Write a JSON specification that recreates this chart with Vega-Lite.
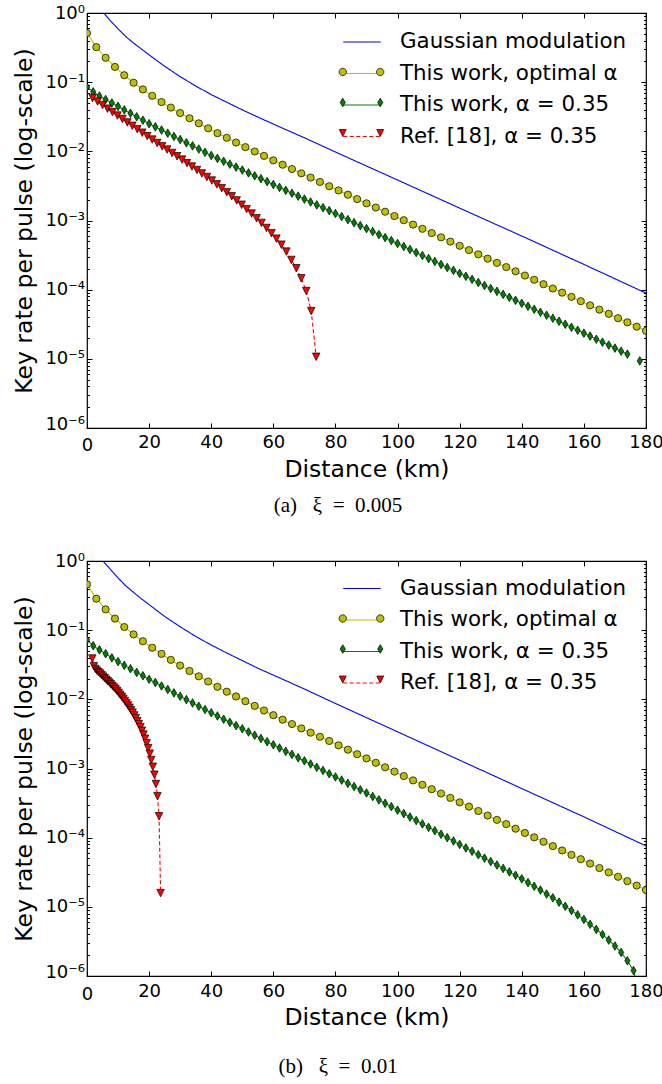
{
  "$schema": "https://vega.github.io/schema/vega-lite/v6.json",
  "background": "white",
  "padding": {"left": 12, "top": 3, "right": 2, "bottom": 2},
  "config": {
    "view": {"stroke": "black", "strokeWidth": 1.2},
    "axis": {"labelFont": "DejaVu Sans", "titleFont": "DejaVu Sans", "labelColor": "black", "titleColor": "black", "tickColor": "black", "titleFontWeight": "normal"},
    "legend": {"labelFont": "DejaVu Sans", "labelFontSize": 21.4, "labelColor": "black", "labelLimit": 400}
  },
  "datasets": {
    "a": [
      {"s":"gauss","km":5.4,"rate":1},{"s":"gauss","km":7.5,"rate":0.776},{"s":"gauss","km":10,"rate":0.589},{"s":"gauss","km":12.5,"rate":0.457},{"s":"gauss","km":15,"rate":0.367},{"s":"gauss","km":17.5,"rate":0.302},{"s":"gauss","km":20,"rate":0.248},{"s":"gauss","km":25,"rate":0.170},{"s":"gauss","km":30,"rate":0.120},{"s":"gauss","km":35,"rate":0.0881},{"s":"gauss","km":40,"rate":0.0661},{"s":"gauss","km":45,"rate":0.0513},{"s":"gauss","km":50,"rate":0.0398},{"s":"gauss","km":55,"rate":0.0313},{"s":"gauss","km":60,"rate":0.0248},{"s":"gauss","km":65,"rate":0.0197},{"s":"gauss","km":70,"rate":0.0157},{"s":"gauss","km":80,"rate":0.00977},{"s":"gauss","km":100,"rate":0.00385},{"s":"gauss","km":120,"rate":0.00151},{"s":"gauss","km":140,"rate":0.000596},{"s":"gauss","km":160,"rate":0.000232},{"s":"gauss","km":180,"rate":0.0000891},
      {"s":"opt","km":0,"rate":0.513},{"s":"opt","km":3,"rate":0.321},{"s":"opt","km":6,"rate":0.225},{"s":"opt","km":9,"rate":0.166},{"s":"opt","km":12,"rate":0.126},{"s":"opt","km":15,"rate":0.0982},{"s":"opt","km":18,"rate":0.0785},{"s":"opt","km":21,"rate":0.0635},{"s":"opt","km":24,"rate":0.0516},{"s":"opt","km":27,"rate":0.0429},{"s":"opt","km":30,"rate":0.0358},{"s":"opt","km":33,"rate":0.0301},{"s":"opt","km":36,"rate":0.0254},{"s":"opt","km":39,"rate":0.0215},{"s":"opt","km":42,"rate":0.0183},{"s":"opt","km":45,"rate":0.0157},{"s":"opt","km":48,"rate":0.0134},{"s":"opt","km":51,"rate":0.0115},{"s":"opt","km":54,"rate":0.00995},{"s":"opt","km":57,"rate":0.00859},{"s":"opt","km":60,"rate":0.00741},{"s":"opt","km":63,"rate":0.00641},{"s":"opt","km":66,"rate":0.00555},{"s":"opt","km":69,"rate":0.00481},{"s":"opt","km":72,"rate":0.00417},{"s":"opt","km":75,"rate":0.00361},{"s":"opt","km":78,"rate":0.00313},{"s":"opt","km":81,"rate":0.00272},{"s":"opt","km":84,"rate":0.00236},{"s":"opt","km":87,"rate":0.00204},{"s":"opt","km":90,"rate":0.00177},{"s":"opt","km":93,"rate":0.00154},{"s":"opt","km":96,"rate":0.00134},{"s":"opt","km":99,"rate":0.00116},{"s":"opt","km":102,"rate":0.00101},{"s":"opt","km":105,"rate":0.000873},{"s":"opt","km":108,"rate":0.000759},{"s":"opt","km":111,"rate":0.000658},{"s":"opt","km":114,"rate":0.000571},{"s":"opt","km":117,"rate":0.000495},{"s":"opt","km":120,"rate":0.000431},{"s":"opt","km":123,"rate":0.000373},{"s":"opt","km":126,"rate":0.000324},{"s":"opt","km":129,"rate":0.000281},{"s":"opt","km":132,"rate":0.000244},{"s":"opt","km":135,"rate":0.000212},{"s":"opt","km":138,"rate":0.000184},{"s":"opt","km":141,"rate":0.000160},{"s":"opt","km":144,"rate":0.000139},{"s":"opt","km":147,"rate":0.000120},{"s":"opt","km":150,"rate":0.000104},{"s":"opt","km":153,"rate":0.0000906},{"s":"opt","km":156,"rate":0.0000787},{"s":"opt","km":159,"rate":0.0000682},{"s":"opt","km":162,"rate":0.0000593},{"s":"opt","km":165,"rate":0.0000514},{"s":"opt","km":168,"rate":0.0000447},{"s":"opt","km":171,"rate":0.0000387},{"s":"opt","km":174,"rate":0.0000337},{"s":"opt","km":177,"rate":0.0000292},{"s":"opt","km":180,"rate":0.0000254},
      {"s":"a035","km":0,"rate":0.0851},{"s":"a035","km":2,"rate":0.0724},{"s":"a035","km":4,"rate":0.0631},{"s":"a035","km":6,"rate":0.0562},{"s":"a035","km":8,"rate":0.0501},{"s":"a035","km":10,"rate":0.0447},{"s":"a035","km":12,"rate":0.0398},{"s":"a035","km":14,"rate":0.0355},{"s":"a035","km":16,"rate":0.0316},{"s":"a035","km":18,"rate":0.0282},{"s":"a035","km":20,"rate":0.0251},{"s":"a035","km":22,"rate":0.0226},{"s":"a035","km":24,"rate":0.0203},{"s":"a035","km":26,"rate":0.0183},{"s":"a035","km":28,"rate":0.0164},{"s":"a035","km":30,"rate":0.0148},{"s":"a035","km":32,"rate":0.0133},{"s":"a035","km":34,"rate":0.0120},{"s":"a035","km":36,"rate":0.0108},{"s":"a035","km":38,"rate":0.00968},{"s":"a035","km":40,"rate":0.00871},{"s":"a035","km":42,"rate":0.00791},{"s":"a035","km":44,"rate":0.00718},{"s":"a035","km":46,"rate":0.00652},{"s":"a035","km":48,"rate":0.00592},{"s":"a035","km":50,"rate":0.00537},{"s":"a035","km":52,"rate":0.00488},{"s":"a035","km":54,"rate":0.00443},{"s":"a035","km":56,"rate":0.00402},{"s":"a035","km":58,"rate":0.00365},{"s":"a035","km":60,"rate":0.00331},{"s":"a035","km":62,"rate":0.00301},{"s":"a035","km":64,"rate":0.00273},{"s":"a035","km":66,"rate":0.00248},{"s":"a035","km":68,"rate":0.00225},{"s":"a035","km":70,"rate":0.00204},{"s":"a035","km":72,"rate":0.00185},{"s":"a035","km":74,"rate":0.00168},{"s":"a035","km":76,"rate":0.00153},{"s":"a035","km":78,"rate":0.00139},{"s":"a035","km":80,"rate":0.00126},{"s":"a035","km":82,"rate":0.00114},{"s":"a035","km":84,"rate":0.00103},{"s":"a035","km":86,"rate":0.000931},{"s":"a035","km":88,"rate":0.000843},{"s":"a035","km":90,"rate":0.000764},{"s":"a035","km":92,"rate":0.000692},{"s":"a035","km":94,"rate":0.000625},{"s":"a035","km":96,"rate":0.000566},{"s":"a035","km":98,"rate":0.000513},{"s":"a035","km":100,"rate":0.000465},{"s":"a035","km":102,"rate":0.000421},{"s":"a035","km":104,"rate":0.000380},{"s":"a035","km":106,"rate":0.000344},{"s":"a035","km":108,"rate":0.000312},{"s":"a035","km":110,"rate":0.000282},{"s":"a035","km":112,"rate":0.000256},{"s":"a035","km":114,"rate":0.000231},{"s":"a035","km":116,"rate":0.000209},{"s":"a035","km":118,"rate":0.000190},{"s":"a035","km":120,"rate":0.000172},{"s":"a035","km":122,"rate":0.000156},{"s":"a035","km":124,"rate":0.000141},{"s":"a035","km":126,"rate":0.000127},{"s":"a035","km":128,"rate":0.000115},{"s":"a035","km":130,"rate":0.000104},{"s":"a035","km":132,"rate":0.0000946},{"s":"a035","km":134,"rate":0.0000855},{"s":"a035","km":136,"rate":0.0000774},{"s":"a035","km":138,"rate":0.0000701},{"s":"a035","km":140,"rate":0.0000635},{"s":"a035","km":142,"rate":0.0000575},{"s":"a035","km":144,"rate":0.0000520},{"s":"a035","km":146,"rate":0.0000471},{"s":"a035","km":148,"rate":0.0000427},{"s":"a035","km":150,"rate":0.0000386},{"s":"a035","km":152,"rate":0.0000350},{"s":"a035","km":154,"rate":0.0000316},{"s":"a035","km":156,"rate":0.0000286},{"s":"a035","km":158,"rate":0.0000259},{"s":"a035","km":160,"rate":0.0000235},{"s":"a035","km":162,"rate":0.0000213},{"s":"a035","km":164,"rate":0.0000192},{"s":"a035","km":166,"rate":0.0000174},{"s":"a035","km":168,"rate":0.0000158},{"s":"a035","km":170,"rate":0.0000143},{"s":"a035","km":172,"rate":0.0000129},{"s":"a035","km":174,"rate":0.0000117},{"s":"a035","km":176,"rate":null},{"s":"a035","km":178,"rate":0.00000933},
      {"s":"ref18","km":1.8,"rate":0.0589},{"s":"ref18","km":3.4,"rate":0.0524},{"s":"ref18","km":5.0,"rate":0.0466},{"s":"ref18","km":6.6,"rate":0.0414},{"s":"ref18","km":8.2,"rate":0.0369},{"s":"ref18","km":9.8,"rate":0.0329},{"s":"ref18","km":11.4,"rate":0.0294},{"s":"ref18","km":13.0,"rate":0.0262},{"s":"ref18","km":14.6,"rate":0.0234},{"s":"ref18","km":16.2,"rate":0.0209},{"s":"ref18","km":17.8,"rate":0.0186},{"s":"ref18","km":19.4,"rate":0.0166},{"s":"ref18","km":21.0,"rate":0.0148},{"s":"ref18","km":22.6,"rate":0.0132},{"s":"ref18","km":24.2,"rate":0.0118},{"s":"ref18","km":25.8,"rate":0.0106},{"s":"ref18","km":27.4,"rate":0.00948},{"s":"ref18","km":29.0,"rate":0.00849},{"s":"ref18","km":30.6,"rate":0.00759},{"s":"ref18","km":32.2,"rate":0.00676},{"s":"ref18","km":33.8,"rate":0.00603},{"s":"ref18","km":35.4,"rate":0.00537},{"s":"ref18","km":37.0,"rate":0.00479},{"s":"ref18","km":38.6,"rate":0.00425},{"s":"ref18","km":40.2,"rate":0.00378},{"s":"ref18","km":41.8,"rate":0.00333},{"s":"ref18","km":43.4,"rate":0.00293},{"s":"ref18","km":45.0,"rate":0.00257},{"s":"ref18","km":46.6,"rate":0.00224},{"s":"ref18","km":48.2,"rate":0.00195},{"s":"ref18","km":49.8,"rate":0.00169},{"s":"ref18","km":51.4,"rate":0.00146},{"s":"ref18","km":53.0,"rate":0.00126},{"s":"ref18","km":54.6,"rate":0.00108},{"s":"ref18","km":56.2,"rate":0.000923},{"s":"ref18","km":57.8,"rate":0.000780},{"s":"ref18","km":59.4,"rate":0.000656},{"s":"ref18","km":61.0,"rate":0.000547},{"s":"ref18","km":62.6,"rate":0.000447},{"s":"ref18","km":64.2,"rate":0.000355},{"s":"ref18","km":65.8,"rate":0.000269},{"s":"ref18","km":67.4,"rate":0.000204},{"s":"ref18","km":69.0,"rate":0.000146},{"s":"ref18","km":70.6,"rate":0.0000955},{"s":"ref18","km":72.2,"rate":0.0000490},{"s":"ref18","km":73.8,"rate":0.0000107}
    ],
    "b": [
      {"s":"gauss","km":5.1,"rate":1},{"s":"gauss","km":7.5,"rate":0.759},{"s":"gauss","km":10,"rate":0.569},{"s":"gauss","km":12.5,"rate":0.437},{"s":"gauss","km":15,"rate":0.351},{"s":"gauss","km":17.5,"rate":0.285},{"s":"gauss","km":20,"rate":0.234},{"s":"gauss","km":25,"rate":0.158},{"s":"gauss","km":30,"rate":0.112},{"s":"gauss","km":35,"rate":0.0813},{"s":"gauss","km":40,"rate":0.0610},{"s":"gauss","km":45,"rate":0.0468},{"s":"gauss","km":50,"rate":0.0363},{"s":"gauss","km":55,"rate":0.0282},{"s":"gauss","km":60,"rate":0.0224},{"s":"gauss","km":65,"rate":0.0178},{"s":"gauss","km":70,"rate":0.0141},{"s":"gauss","km":80,"rate":0.00871},{"s":"gauss","km":100,"rate":0.00339},{"s":"gauss","km":120,"rate":0.00132},{"s":"gauss","km":140,"rate":0.000513},{"s":"gauss","km":160,"rate":0.000200},{"s":"gauss","km":180,"rate":0.0000759},
      {"s":"opt","km":0,"rate":0.459},{"s":"opt","km":3,"rate":0.285},{"s":"opt","km":6,"rate":0.200},{"s":"opt","km":9,"rate":0.147},{"s":"opt","km":12,"rate":0.111},{"s":"opt","km":15,"rate":0.0869},{"s":"opt","km":18,"rate":0.0692},{"s":"opt","km":21,"rate":0.0558},{"s":"opt","km":24,"rate":0.0454},{"s":"opt","km":27,"rate":0.0372},{"s":"opt","km":30,"rate":0.0308},{"s":"opt","km":33,"rate":0.0257},{"s":"opt","km":36,"rate":0.0215},{"s":"opt","km":39,"rate":0.0181},{"s":"opt","km":42,"rate":0.0152},{"s":"opt","km":45,"rate":0.0129},{"s":"opt","km":48,"rate":0.0110},{"s":"opt","km":51,"rate":0.00940},{"s":"opt","km":54,"rate":0.00804},{"s":"opt","km":57,"rate":0.00689},{"s":"opt","km":60,"rate":0.00590},{"s":"opt","km":63,"rate":0.00508},{"s":"opt","km":66,"rate":0.00439},{"s":"opt","km":69,"rate":0.00380},{"s":"opt","km":72,"rate":0.00330},{"s":"opt","km":75,"rate":0.00287},{"s":"opt","km":78,"rate":0.00250},{"s":"opt","km":81,"rate":0.00216},{"s":"opt","km":84,"rate":0.00187},{"s":"opt","km":87,"rate":0.00161},{"s":"opt","km":90,"rate":0.00140},{"s":"opt","km":93,"rate":0.00121},{"s":"opt","km":96,"rate":0.00104},{"s":"opt","km":99,"rate":0.000902},{"s":"opt","km":102,"rate":0.000778},{"s":"opt","km":105,"rate":0.000673},{"s":"opt","km":108,"rate":0.000582},{"s":"opt","km":111,"rate":0.000502},{"s":"opt","km":114,"rate":0.000435},{"s":"opt","km":117,"rate":0.000376},{"s":"opt","km":120,"rate":0.000324},{"s":"opt","km":123,"rate":0.000281},{"s":"opt","km":126,"rate":0.000243},{"s":"opt","km":129,"rate":0.000209},{"s":"opt","km":132,"rate":0.000181},{"s":"opt","km":135,"rate":0.000157},{"s":"opt","km":138,"rate":0.000135},{"s":"opt","km":141,"rate":0.000117},{"s":"opt","km":144,"rate":0.000101},{"s":"opt","km":147,"rate":0.0000873},{"s":"opt","km":150,"rate":0.0000755},{"s":"opt","km":153,"rate":0.0000653},{"s":"opt","km":156,"rate":0.0000564},{"s":"opt","km":159,"rate":0.0000488},{"s":"opt","km":162,"rate":0.0000422},{"s":"opt","km":165,"rate":0.0000364},{"s":"opt","km":168,"rate":0.0000315},{"s":"opt","km":171,"rate":0.0000272},{"s":"opt","km":174,"rate":0.0000235},{"s":"opt","km":177,"rate":0.0000203},{"s":"opt","km":180,"rate":0.0000175},
      {"s":"a035","km":0,"rate":0.0724},{"s":"a035","km":2,"rate":0.0596},{"s":"a035","km":4,"rate":0.0519},{"s":"a035","km":6,"rate":0.0457},{"s":"a035","km":8,"rate":0.0398},{"s":"a035","km":10,"rate":0.0351},{"s":"a035","km":12,"rate":0.0310},{"s":"a035","km":14,"rate":0.0277},{"s":"a035","km":16,"rate":0.0245},{"s":"a035","km":18,"rate":0.0219},{"s":"a035","km":20,"rate":0.0195},{"s":"a035","km":22,"rate":0.0175},{"s":"a035","km":24,"rate":0.0156},{"s":"a035","km":26,"rate":0.0139},{"s":"a035","km":28,"rate":0.0124},{"s":"a035","km":30,"rate":0.0111},{"s":"a035","km":32,"rate":0.00991},{"s":"a035","km":34,"rate":0.00885},{"s":"a035","km":36,"rate":0.00794},{"s":"a035","km":38,"rate":0.00713},{"s":"a035","km":40,"rate":0.00640},{"s":"a035","km":42,"rate":0.00575},{"s":"a035","km":44,"rate":0.00516},{"s":"a035","km":46,"rate":0.00465},{"s":"a035","km":48,"rate":0.00417},{"s":"a035","km":50,"rate":0.00375},{"s":"a035","km":52,"rate":0.00337},{"s":"a035","km":54,"rate":0.00303},{"s":"a035","km":56,"rate":0.00272},{"s":"a035","km":58,"rate":0.00244},{"s":"a035","km":60,"rate":0.00220},{"s":"a035","km":62,"rate":0.00198},{"s":"a035","km":64,"rate":0.00177},{"s":"a035","km":66,"rate":0.00160},{"s":"a035","km":68,"rate":0.00143},{"s":"a035","km":70,"rate":0.00129},{"s":"a035","km":72,"rate":0.00116},{"s":"a035","km":74,"rate":0.00104},{"s":"a035","km":76,"rate":0.000935},{"s":"a035","km":78,"rate":0.000839},{"s":"a035","km":80,"rate":0.000755},{"s":"a035","km":82,"rate":0.000679},{"s":"a035","km":84,"rate":0.000610},{"s":"a035","km":86,"rate":0.000548},{"s":"a035","km":88,"rate":0.000492},{"s":"a035","km":90,"rate":0.000443},{"s":"a035","km":92,"rate":0.000394},{"s":"a035","km":94,"rate":0.000352},{"s":"a035","km":96,"rate":0.000314},{"s":"a035","km":98,"rate":0.000281},{"s":"a035","km":100,"rate":0.000250},{"s":"a035","km":102,"rate":0.000223},{"s":"a035","km":104,"rate":0.000199},{"s":"a035","km":106,"rate":0.000177},{"s":"a035","km":108,"rate":0.000158},{"s":"a035","km":110,"rate":0.000141},{"s":"a035","km":112,"rate":0.000126},{"s":"a035","km":114,"rate":0.000112},{"s":"a035","km":116,"rate":0.000100},{"s":"a035","km":118,"rate":0.0000895},{"s":"a035","km":120,"rate":0.0000798},{"s":"a035","km":122,"rate":0.0000711},{"s":"a035","km":124,"rate":0.0000635},{"s":"a035","km":126,"rate":0.0000566},{"s":"a035","km":128,"rate":0.0000506},{"s":"a035","km":130,"rate":0.0000451},{"s":"a035","km":132,"rate":0.0000402},{"s":"a035","km":134,"rate":0.0000359},{"s":"a035","km":136,"rate":0.0000320},{"s":"a035","km":138,"rate":0.0000286},{"s":"a035","km":140,"rate":0.0000254},{"s":"a035","km":142,"rate":0.0000224},{"s":"a035","km":144,"rate":0.0000198},{"s":"a035","km":146,"rate":0.0000175},{"s":"a035","km":148,"rate":0.0000153},{"s":"a035","km":150,"rate":0.0000135},{"s":"a035","km":152,"rate":0.0000117},{"s":"a035","km":154,"rate":0.0000102},{"s":"a035","km":156,"rate":0.00000887},{"s":"a035","km":158,"rate":0.00000766},{"s":"a035","km":160,"rate":0.00000656},{"s":"a035","km":162,"rate":0.00000558},{"s":"a035","km":164,"rate":0.00000472},{"s":"a035","km":166,"rate":0.00000398},{"s":"a035","km":168,"rate":0.00000331},{"s":"a035","km":170,"rate":0.00000272},{"s":"a035","km":172,"rate":0.00000219},{"s":"a035","km":174,"rate":0.00000166},{"s":"a035","km":176,"rate":0.00000120},{"s":"a035","km":178,"rate":0.000000398},
      {"s":"ref18","km":1.7,"rate":0.0389},{"s":"ref18","km":2.2,"rate":0.0302},{"s":"ref18","km":2.7,"rate":0.0275},{"s":"ref18","km":3.2,"rate":0.0260},{"s":"ref18","km":3.7,"rate":0.0247},{"s":"ref18","km":4.2,"rate":0.0236},{"s":"ref18","km":4.7,"rate":0.0224},{"s":"ref18","km":5.2,"rate":0.0213},{"s":"ref18","km":5.7,"rate":0.0202},{"s":"ref18","km":6.2,"rate":0.0192},{"s":"ref18","km":6.7,"rate":0.0183},{"s":"ref18","km":7.2,"rate":0.0174},{"s":"ref18","km":7.7,"rate":0.0165},{"s":"ref18","km":8.2,"rate":0.0156},{"s":"ref18","km":8.7,"rate":0.0148},{"s":"ref18","km":9.2,"rate":0.0140},{"s":"ref18","km":9.7,"rate":0.0132},{"s":"ref18","km":10.2,"rate":0.0124},{"s":"ref18","km":10.7,"rate":0.0116},{"s":"ref18","km":11.2,"rate":0.0109},{"s":"ref18","km":11.7,"rate":0.0102},{"s":"ref18","km":12.2,"rate":0.00948},{"s":"ref18","km":12.7,"rate":0.00881},{"s":"ref18","km":13.2,"rate":0.00817},{"s":"ref18","km":13.7,"rate":0.00755},{"s":"ref18","km":14.2,"rate":0.00697},{"s":"ref18","km":14.7,"rate":0.00641},{"s":"ref18","km":15.2,"rate":0.00586},{"s":"ref18","km":15.7,"rate":0.00535},{"s":"ref18","km":16.2,"rate":0.00484},{"s":"ref18","km":16.7,"rate":0.00437},{"s":"ref18","km":17.2,"rate":0.00394},{"s":"ref18","km":17.7,"rate":0.00351},{"s":"ref18","km":18.2,"rate":0.00309},{"s":"ref18","km":18.7,"rate":0.00269},{"s":"ref18","km":19.2,"rate":0.00232},{"s":"ref18","km":19.7,"rate":0.00197},{"s":"ref18","km":20.2,"rate":0.00164},{"s":"ref18","km":20.7,"rate":0.00133},{"s":"ref18","km":21.2,"rate":0.00106},{"s":"ref18","km":21.7,"rate":0.000813},{"s":"ref18","km":22.2,"rate":0.000596},{"s":"ref18","km":22.7,"rate":0.000398},{"s":"ref18","km":23.2,"rate":0.000204},{"s":"ref18","km":23.7,"rate":0.0000158}
    ]
  },
  "spacing": 34,
  "resolve": {"scale": {"stroke": "independent", "strokeDash": "independent", "fill": "independent", "shape": "independent"}},
  "vconcat": [
    {
      "width": 559, "height": 415,
      "title": {"text": "(a)\u00a0\u00a0\u00a0ξ\u00a0\u00a0=\u00a0\u00a00.005", "orient": "bottom", "anchor": "middle", "frame": "bounds", "font": "Liberation Serif", "fontSize": 21, "fontWeight": "normal", "color": "black", "offset": 14},
      "data": {"name": "a"},
      "layer": [
        {
          "mark": {"type": "line", "clip": true, "strokeWidth": 1.1},
          "encoding": {
            "x": {"field": "km", "type": "quantitative", "scale": {"domain": [0, 180], "nice": false, "zero": false},
              "axis": {"orient": "bottom", "values": [0,20,40,60,80,100,120,140,160,180], "tickSize": -5, "labelPadding": {"condition": {"test": "datum.value < 1", "value": 13.5}, "value": 10}, "labelFontSize": 18, "labelFlush": false, "labelOverlap": false, "domain": false, "grid": false, "title": "Distance (km)", "titleFontSize": 23.5, "titlePadding": 2.5}},
            "y": {"field": "rate", "type": "quantitative", "scale": {"type": "log", "domain": [0.000001, 1], "nice": false},
              "axis": {"orient": "left", "values": [0.000001,0.00001,0.0001,0.001,0.01,0.1,1], "tickSize": -5, "labelPadding": 7.5, "labelOffset": {"condition": {"test": "datum.value < 0.0000015", "value": -3.5}, "value": 0}, "labelFontSize": 18, "labelFlush": false, "labelOverlap": false, "labelExpr": "datum.value >= 0.5 ? '10⁰' : datum.value >= 0.05 ? '10⁻¹' : datum.value >= 0.005 ? '10⁻²' : datum.value >= 0.0005 ? '10⁻³' : datum.value >= 0.00005 ? '10⁻⁴' : datum.value >= 0.000005 ? '10⁻⁵' : '10⁻⁶'", "domain": false, "grid": false, "title": "Key rate per pulse (log-scale)", "titleFontSize": 23.5, "titlePadding": 8}},
            "stroke": {"field": "s", "type": "nominal", "scale": {"domain": ["gauss","opt","a035","ref18"], "range": ["#0000ff","#bfbf00","#008000","#ff0000"]},
              "legend": {"orient": "none", "legendX": 259, "legendY": 13, "title": null, "padding": 0, "symbolType": "M-1.25,0H1.25", "symbolSize": 900, "symbolStrokeWidth": 1.2, "labelOffset": 22, "rowPadding": 4.5, "labelExpr": "datum.label === 'gauss' ? 'Gaussian modulation' : datum.label === 'opt' ? 'This work, optimal α' : datum.label === 'a035' ? 'This work, α = 0.35' : 'Ref. [18], α = 0.35'"}},
            "strokeDash": {"field": "s", "type": "nominal", "scale": {"domain": ["gauss","opt","a035","ref18"], "range": [[1,0],[1,0],[1,0],[4,2.5]]},
              "legend": {"orient": "none", "legendX": 259, "legendY": 13, "title": null, "padding": 0, "symbolType": "M-1.25,0H1.25", "symbolSize": 900, "symbolStrokeWidth": 1.2, "labelOffset": 22, "rowPadding": 4.5, "labelExpr": "datum.label === 'gauss' ? 'Gaussian modulation' : datum.label === 'opt' ? 'This work, optimal α' : datum.label === 'a035' ? 'This work, α = 0.35' : 'Ref. [18], α = 0.35'"}}
          }
        },
        {
          "transform": [{"filter": "datum.s === 'opt'"}],
          "mark": {"type": "point", "shape": "circle", "filled": true, "fill": "#bfbf00", "stroke": "black", "strokeWidth": 0.7, "size": 52, "opacity": 1, "clip": true},
          "encoding": {
            "x": {"field": "km", "type": "quantitative", "axis": {"orient": "top", "values": [0,20,40,60,80,100,120,140,160,180], "tickSize": -5, "labels": false, "domain": false, "grid": false, "title": null}},
            "y": {"field": "rate", "type": "quantitative", "axis": {"orient": "right", "values": [0.000001,0.00001,0.0001,0.001,0.01,0.1,1], "tickSize": -5, "labels": false, "domain": false, "grid": false, "title": null}}
          }
        },
        {
          "transform": [{"filter": "datum.s === 'a035'"}],
          "mark": {"type": "point", "shape": "M0,-1L0.6,0L0,1L-0.6,0Z", "filled": true, "fill": "#008000", "stroke": "black", "strokeWidth": 0.7, "size": 74, "opacity": 1, "clip": true},
          "encoding": {
            "x": {"field": "km", "type": "quantitative", "axis": null},
            "y": {"field": "rate", "type": "quantitative", "axis": {"orient": "left", "values": [0.000002,0.000003,0.000004,0.000005,0.000006,0.000007,0.000008,0.000009,0.00002,0.00003,0.00004,0.00005,0.00006,0.00007,0.00008,0.00009,0.0002,0.0003,0.0004,0.0005,0.0006,0.0007,0.0008,0.0009,0.002,0.003,0.004,0.005,0.006,0.007,0.008,0.009,0.02,0.03,0.04,0.05,0.06,0.07,0.08,0.09,0.2,0.3,0.4,0.5,0.6,0.7,0.8,0.9], "tickSize": -2.5, "labels": false, "domain": false, "grid": false, "title": null}}
          }
        },
        {
          "transform": [{"filter": "datum.s === 'ref18'"}],
          "mark": {"type": "point", "shape": "M-1,-1L1,-1L0,1Z", "filled": true, "fill": "#ff0000", "stroke": "black", "strokeWidth": 0.7, "size": 56, "opacity": 1, "clip": true},
          "encoding": {
            "x": {"field": "km", "type": "quantitative", "axis": null},
            "y": {"field": "rate", "type": "quantitative", "axis": {"orient": "right", "values": [0.000002,0.000003,0.000004,0.000005,0.000006,0.000007,0.000008,0.000009,0.00002,0.00003,0.00004,0.00005,0.00006,0.00007,0.00008,0.00009,0.0002,0.0003,0.0004,0.0005,0.0006,0.0007,0.0008,0.0009,0.002,0.003,0.004,0.005,0.006,0.007,0.008,0.009,0.02,0.03,0.04,0.05,0.06,0.07,0.08,0.09,0.2,0.3,0.4,0.5,0.6,0.7,0.8,0.9], "tickSize": -2.5, "labels": false, "domain": false, "grid": false, "title": null}}
          }
        },
        {
          "mark": {"type": "point", "filled": true, "stroke": "black", "strokeWidth": 0.7, "opacity": 0, "clip": true},
          "encoding": {
            "x": {"field": "km", "type": "quantitative", "axis": null},
            "y": {"field": "rate", "type": "quantitative", "axis": null},
            "fill": {"field": "s", "type": "nominal", "sort": null, "scale": {"range": ["#0000ff","#bfbf00","#008000","#ff0000"]},
              "legend": {"orient": "none", "legendX": 259, "legendY": 13, "title": null, "padding": 0, "symbolSize": 900, "symbolStrokeWidth": 0.7, "symbolOpacity": 1, "labelOpacity": 0, "labelOffset": 22, "rowPadding": 4.5, "labelExpr": "'\u00a0'"}},
            "shape": {"field": "s", "type": "nominal", "sort": null, "scale": {"range": ["M0,0", "M-1.003,0A0.247,0.247 0 1,1 -1.497,0A0.247,0.247 0 1,1 -1.003,0Z M1.497,0A0.247,0.247 0 1,1 1.003,0A0.247,0.247 0 1,1 1.497,0Z", "M-1.25,-0.287L-1.077,0L-1.25,0.287L-1.423,0Z M1.25,-0.287L1.423,0L1.25,0.287L1.077,0Z", "M-1.483,-0.233L-1.017,-0.233L-1.25,0.233Z M1.017,-0.233L1.483,-0.233L1.25,0.233Z"]},
              "legend": {"orient": "none", "legendX": 259, "legendY": 13, "title": null, "padding": 0, "symbolSize": 900, "symbolStrokeWidth": 0.7, "symbolOpacity": 1, "labelOpacity": 0, "labelOffset": 22, "rowPadding": 4.5, "labelExpr": "'\u00a0'"}}
          }
        }
      ]
    },
    {
      "width": 559, "height": 415,
      "title": {"text": "(b)\u00a0\u00a0\u00a0ξ\u00a0\u00a0=\u00a0\u00a00.01", "orient": "bottom", "anchor": "middle", "frame": "bounds", "font": "Liberation Serif", "fontSize": 21, "fontWeight": "normal", "color": "black", "offset": 27},
      "data": {"name": "b"},
      "layer": [
        {
          "mark": {"type": "line", "clip": true, "strokeWidth": 1.1},
          "encoding": {
            "x": {"field": "km", "type": "quantitative", "scale": {"domain": [0, 180], "nice": false, "zero": false},
              "axis": {"orient": "bottom", "values": [0,20,40,60,80,100,120,140,160,180], "tickSize": -5, "labelPadding": {"condition": {"test": "datum.value < 1", "value": 14.5}, "value": 11}, "labelFontSize": 18, "labelFlush": false, "labelOverlap": false, "domain": false, "grid": false, "title": "Distance (km)", "titleFontSize": 23.5, "titlePadding": 1.5}},
            "y": {"field": "rate", "type": "quantitative", "scale": {"type": "log", "domain": [0.000001, 1], "nice": false},
              "axis": {"orient": "left", "values": [0.000001,0.00001,0.0001,0.001,0.01,0.1,1], "tickSize": -5, "labelPadding": 7.5, "labelOffset": {"condition": {"test": "datum.value < 0.0000015", "value": -3.5}, "value": 0}, "labelFontSize": 18, "labelFlush": false, "labelOverlap": false, "labelExpr": "datum.value >= 0.5 ? '10⁰' : datum.value >= 0.05 ? '10⁻¹' : datum.value >= 0.005 ? '10⁻²' : datum.value >= 0.0005 ? '10⁻³' : datum.value >= 0.00005 ? '10⁻⁴' : datum.value >= 0.000005 ? '10⁻⁵' : '10⁻⁶'", "domain": false, "grid": false, "title": "Key rate per pulse (log-scale)", "titleFontSize": 23.5, "titlePadding": 8}},
            "stroke": {"field": "s", "type": "nominal", "scale": {"domain": ["gauss","opt","a035","ref18"], "range": ["#0000ff","#bfbf00","#008000","#ff0000"]},
              "legend": {"orient": "none", "legendX": 259, "legendY": 11.5, "title": null, "padding": 0, "symbolType": "M-1.25,0H1.25", "symbolSize": 900, "symbolStrokeWidth": 1.2, "labelOffset": 22, "rowPadding": 4.5, "labelExpr": "datum.label === 'gauss' ? 'Gaussian modulation' : datum.label === 'opt' ? 'This work, optimal α' : datum.label === 'a035' ? 'This work, α = 0.35' : 'Ref. [18], α = 0.35'"}},
            "strokeDash": {"field": "s", "type": "nominal", "scale": {"domain": ["gauss","opt","a035","ref18"], "range": [[1,0],[1,0],[1,0],[4,2.5]]},
              "legend": {"orient": "none", "legendX": 259, "legendY": 11.5, "title": null, "padding": 0, "symbolType": "M-1.25,0H1.25", "symbolSize": 900, "symbolStrokeWidth": 1.2, "labelOffset": 22, "rowPadding": 4.5, "labelExpr": "datum.label === 'gauss' ? 'Gaussian modulation' : datum.label === 'opt' ? 'This work, optimal α' : datum.label === 'a035' ? 'This work, α = 0.35' : 'Ref. [18], α = 0.35'"}}
          }
        },
        {
          "transform": [{"filter": "datum.s === 'opt'"}],
          "mark": {"type": "point", "shape": "circle", "filled": true, "fill": "#bfbf00", "stroke": "black", "strokeWidth": 0.7, "size": 52, "opacity": 1, "clip": true},
          "encoding": {
            "x": {"field": "km", "type": "quantitative", "axis": {"orient": "top", "values": [0,20,40,60,80,100,120,140,160,180], "tickSize": -5, "labels": false, "domain": false, "grid": false, "title": null}},
            "y": {"field": "rate", "type": "quantitative", "axis": {"orient": "right", "values": [0.000001,0.00001,0.0001,0.001,0.01,0.1,1], "tickSize": -5, "labels": false, "domain": false, "grid": false, "title": null}}
          }
        },
        {
          "transform": [{"filter": "datum.s === 'a035'"}],
          "mark": {"type": "point", "shape": "M0,-1L0.6,0L0,1L-0.6,0Z", "filled": true, "fill": "#008000", "stroke": "black", "strokeWidth": 0.7, "size": 74, "opacity": 1, "clip": true},
          "encoding": {
            "x": {"field": "km", "type": "quantitative", "axis": null},
            "y": {"field": "rate", "type": "quantitative", "axis": {"orient": "left", "values": [0.000002,0.000003,0.000004,0.000005,0.000006,0.000007,0.000008,0.000009,0.00002,0.00003,0.00004,0.00005,0.00006,0.00007,0.00008,0.00009,0.0002,0.0003,0.0004,0.0005,0.0006,0.0007,0.0008,0.0009,0.002,0.003,0.004,0.005,0.006,0.007,0.008,0.009,0.02,0.03,0.04,0.05,0.06,0.07,0.08,0.09,0.2,0.3,0.4,0.5,0.6,0.7,0.8,0.9], "tickSize": -2.5, "labels": false, "domain": false, "grid": false, "title": null}}
          }
        },
        {
          "transform": [{"filter": "datum.s === 'ref18'"}],
          "mark": {"type": "point", "shape": "M-1,-1L1,-1L0,1Z", "filled": true, "fill": "#ff0000", "stroke": "black", "strokeWidth": 0.7, "size": 56, "opacity": 1, "clip": true},
          "encoding": {
            "x": {"field": "km", "type": "quantitative", "axis": null},
            "y": {"field": "rate", "type": "quantitative", "axis": {"orient": "right", "values": [0.000002,0.000003,0.000004,0.000005,0.000006,0.000007,0.000008,0.000009,0.00002,0.00003,0.00004,0.00005,0.00006,0.00007,0.00008,0.00009,0.0002,0.0003,0.0004,0.0005,0.0006,0.0007,0.0008,0.0009,0.002,0.003,0.004,0.005,0.006,0.007,0.008,0.009,0.02,0.03,0.04,0.05,0.06,0.07,0.08,0.09,0.2,0.3,0.4,0.5,0.6,0.7,0.8,0.9], "tickSize": -2.5, "labels": false, "domain": false, "grid": false, "title": null}}
          }
        },
        {
          "mark": {"type": "point", "filled": true, "stroke": "black", "strokeWidth": 0.7, "opacity": 0, "clip": true},
          "encoding": {
            "x": {"field": "km", "type": "quantitative", "axis": null},
            "y": {"field": "rate", "type": "quantitative", "axis": null},
            "fill": {"field": "s", "type": "nominal", "sort": null, "scale": {"range": ["#0000ff","#bfbf00","#008000","#ff0000"]},
              "legend": {"orient": "none", "legendX": 259, "legendY": 11.5, "title": null, "padding": 0, "symbolSize": 900, "symbolStrokeWidth": 0.7, "symbolOpacity": 1, "labelOpacity": 0, "labelOffset": 22, "rowPadding": 4.5, "labelExpr": "'\u00a0'"}},
            "shape": {"field": "s", "type": "nominal", "sort": null, "scale": {"range": ["M0,0", "M-1.003,0A0.247,0.247 0 1,1 -1.497,0A0.247,0.247 0 1,1 -1.003,0Z M1.497,0A0.247,0.247 0 1,1 1.003,0A0.247,0.247 0 1,1 1.497,0Z", "M-1.25,-0.287L-1.077,0L-1.25,0.287L-1.423,0Z M1.25,-0.287L1.423,0L1.25,0.287L1.077,0Z", "M-1.483,-0.233L-1.017,-0.233L-1.25,0.233Z M1.017,-0.233L1.483,-0.233L1.25,0.233Z"]},
              "legend": {"orient": "none", "legendX": 259, "legendY": 11.5, "title": null, "padding": 0, "symbolSize": 900, "symbolStrokeWidth": 0.7, "symbolOpacity": 1, "labelOpacity": 0, "labelOffset": 22, "rowPadding": 4.5, "labelExpr": "'\u00a0'"}}
          }
        }
      ]
    }
  ]
}
